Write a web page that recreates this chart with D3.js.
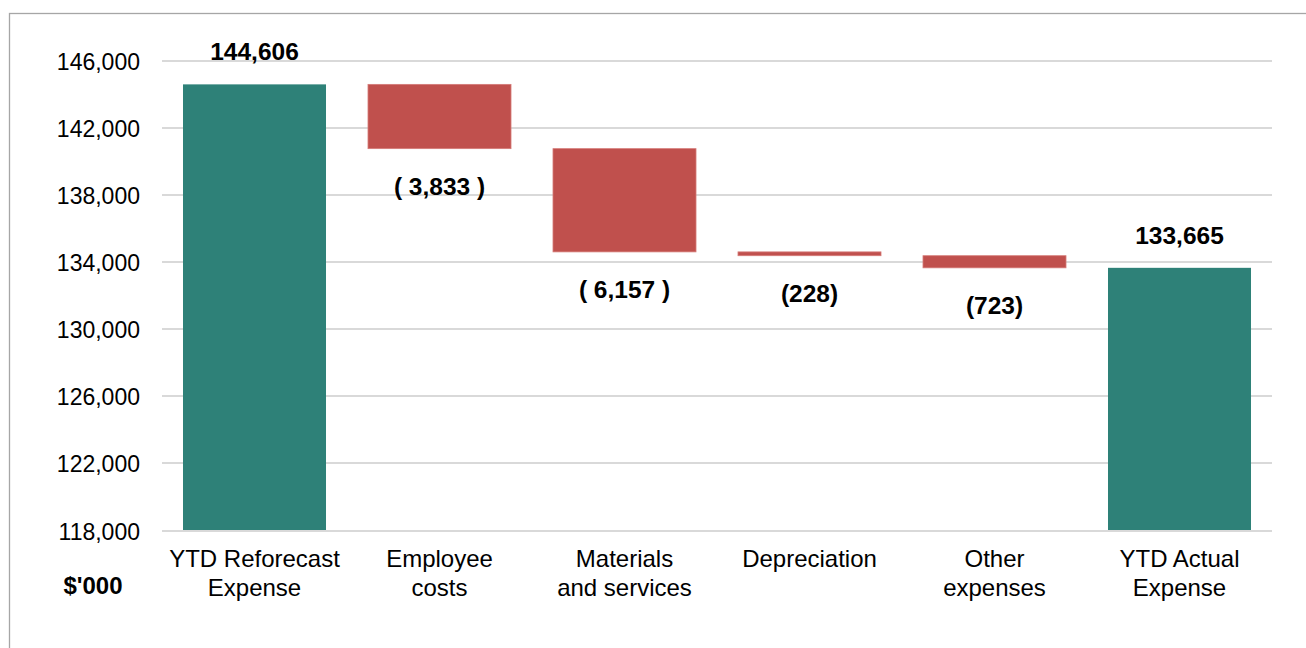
<!DOCTYPE html>
<meta charset="utf-8">
<style>
body { margin: 0; background: #fff; }
svg { display: block; font-family: "Liberation Sans", Arial, sans-serif; }
.grid line { stroke: #d9d9d9; stroke-width: 2px; }
.tick-label { font-size: 23px; fill: #000; }
.cat-label { font-size: 24px; fill: #000; }
.val-label { font-size: 24.5px; font-weight: bold; fill: #000; }
</style>
<svg width="1306" height="648"></svg>
<script src="https://d3js.org/d3.v7.min.js"></script>
<script>

// chart data
var categories = ["YTD Reforecast\nExpense", "Employee\ncosts", "Materials\nand services",
                  "Depreciation", "Other\nexpenses", "YTD Actual\nExpense"];
var values = [144606, -3833, -6157, -228, -723, 133665];
var kinds = ["total", "delta", "delta", "delta", "delta", "total"];
var yTicks = [118000, 122000, 126000, 130000, 134000, 138000, 142000, 146000];
var unitLabel = "$'000";

var svg = d3.select("svg"),
    width = +svg.attr("width"),
    height = +svg.attr("height");

// frame of the chart area (right and bottom edges fall outside the window)
svg.append("rect")
    .attr("x", 9.5).attr("y", 13.5)
    .attr("width", width + 20).attr("height", height + 20)
    .attr("fill", "none")
    .attr("stroke", "#a6a6a6")
    .attr("stroke-width", 1.3);

var x = d3.scaleBand()
    .domain(categories)
    .range([162, 1272])
    .paddingInner(0.227)
    .paddingOuter(0.1135);

var y = d3.scaleLinear()
    .domain([118000, 146000])
    .range([530.5, 61]);

// running totals for the waterfall
var running = 0;
var bars = values.map(function(v, i) {
  var b = {cat: categories[i], value: v, kind: kinds[i]};
  if (kinds[i] === "total") {
    b.y0 = y.domain()[0];
    b.y1 = v;
    running = v;
  } else {
    b.y0 = running + v;
    b.y1 = running;
    running = running + v;
  }
  return b;
});

// gridlines
svg.append("g")
    .attr("class", "grid")
  .selectAll("line")
  .data(yTicks.slice(1))
  .enter().append("line")
    .attr("x1", x.range()[0])
    .attr("x2", x.range()[1])
    .attr("y1", function(d) { return Math.round(y(d)); })
    .attr("y2", function(d) { return Math.round(y(d)); });

// tick labels
svg.append("g")
  .selectAll("text")
  .data(yTicks)
  .enter().append("text")
    .attr("class", "tick-label")
    .attr("x", 140)
    .attr("y", function(d) { return y(d) + 9; })
    .attr("text-anchor", "end")
    .text(function(d) { return d3.format(",")(d); });

// bars
svg.append("g")
  .selectAll("rect")
  .data(bars)
  .enter().append("rect")
    .attr("x", function(d) { return x(d.cat); })
    .attr("width", x.bandwidth())
    .attr("y", function(d) { return y(d.y1); })
    .attr("height", function(d) { return Math.max(1, y(d.y0) - y(d.y1)); })
    .attr("fill", function(d) { return d.kind === "total" ? "#2e8178" : "#c0504d"; })
    .attr("stroke", function(d) { return d.kind === "total" ? "none" : "#d57b78"; })
    .attr("stroke-width", 0.8);

// baseline on top of the bars
svg.append("line")
    .attr("x1", x.range()[0])
    .attr("x2", x.range()[1])
    .attr("y1", Math.round(y(yTicks[0])))
    .attr("y2", Math.round(y(yTicks[0])))
    .attr("stroke", "#d9d9d9")
    .attr("stroke-width", 2);

// value labels
var fmt = d3.format(",");
svg.append("g")
  .selectAll("text")
  .data(bars)
  .enter().append("text")
    .attr("class", "val-label")
    .attr("text-anchor", "middle")
    .attr("x", function(d) { return x(d.cat) + x.bandwidth() / 2; })
    .attr("y", function(d) {
      return d.kind === "total" ? y(d.y1) - 24 : y(d.y0) + 46;
    })
    .text(function(d) {
      if (d.kind === "total") return fmt(d.value);
      var a = Math.abs(d.value);
      return a >= 1000 ? "( " + fmt(a) + " )" : "(" + fmt(a) + ")";
    });

// category labels
var cat = svg.append("g")
  .selectAll("text")
  .data(categories)
  .enter().append("text")
    .attr("class", "cat-label")
    .attr("text-anchor", "middle")
    .attr("x", function(d) { return x(d) + x.bandwidth() / 2; })
    .attr("y", 567);

cat.selectAll("tspan")
  .data(function(d) { return d.split("\n"); })
  .enter().append("tspan")
    .attr("x", function() { return d3.select(this.parentNode).attr("x"); })
    .attr("dy", function(d, i) { return i === 0 ? 0 : 28.5; })
    .text(function(d) { return d; });

// unit label
svg.append("text")
    .attr("x", 93)
    .attr("y", 594)
    .attr("text-anchor", "middle")
    .attr("font-size", "24px")
    .attr("font-weight", "bold")
    .text(unitLabel);

</script>
